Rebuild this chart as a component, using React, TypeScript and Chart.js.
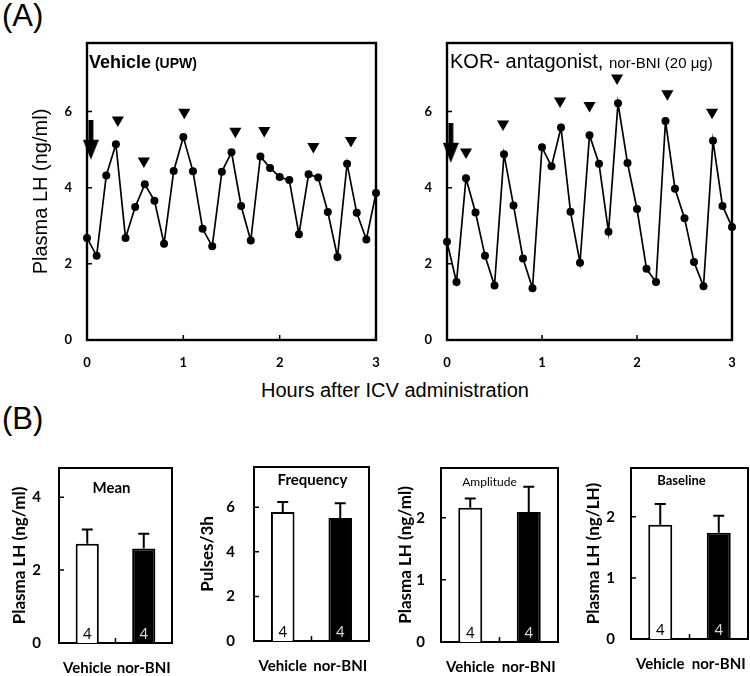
import React, { useEffect, useRef } from "react";
import { Chart, registerables } from "chart.js";

Chart.register(...registerables);

// ---------- Panel A data ----------
const sampleHours = [0, 0.1, 0.2, 0.3, 0.4, 0.5, 0.6, 0.7, 0.8, 0.9, 1, 1.1, 1.2, 1.3, 1.4, 1.5, 1.6, 1.7, 1.8, 1.9, 2, 2.1, 2.2, 2.3, 2.4, 2.5, 2.6, 2.7, 2.8, 2.9, 3];
const vehicleLH = [2.68, 2.21, 4.32, 5.14, 2.68, 3.49, 4.09, 3.66, 2.53, 4.44, 5.33, 4.43, 2.92, 2.46, 4.42, 4.93, 3.52, 2.61, 4.82, 4.52, 4.28, 4.2, 2.78, 4.35, 4.27, 3.36, 2.18, 4.63, 3.34, 2.64, 3.86];
const norBniLH = [2.58, 1.52, 4.25, 3.35, 2.21, 1.43, 4.88, 3.53, 2.14, 1.36, 5.06, 4.56, 5.58, 3.37, 2.03, 5.38, 4.63, 2.84, 6.22, 4.65, 3.44, 1.87, 1.52, 5.75, 3.97, 3.2, 2.05, 1.41, 5.23, 3.52, 2.97];
const vehiclePulseHours = [0.32, 0.59, 1.01, 1.54, 1.84, 2.35, 2.74];
const vehiclePulseMarks = [5.78, 4.7, 5.98, 5.48, 5.5, 5.08, 5.24];
const norBniPulseHours = [0.2, 0.59, 1.19, 1.5, 1.79, 2.32, 2.79];
const norBniPulseMarks = [4.94, 5.67, 6.28, 6.16, 6.88, 6.47, 5.98];
const injectionHour = [0.04];
const vehicleInjectionMark = [5.26];
const norBniInjectionMark = [5.18];

// ---------- Panel B data ----------
const groups = ["Vehicle", "nor-BNI"];
const nPerGroup = ["4", "4"];
const meanLH = [2.72, 2.59];
const meanSEM = [0.39, 0.41];
const pulseFrequency = [5.78, 5.51];
const pulseFrequencySEM = [0.45, 0.67];
const pulseAmplitude = [2.16, 2.09];
const pulseAmplitudeSEM = [0.15, 0.41];
const baselineLH = [1.87, 1.74];
const baselineSEM = [0.34, 0.28];

const ARIAL = '"Liberation Sans", Arial, sans-serif';
const LATO = 'Lato, "Noto Sans", sans-serif';

// frame + inward tick marks
const framePlugin = {
  id: "frame",
  beforeDatasetsDraw(chart: any, _a: any, opts: any) {
    const { ctx, chartArea: a } = chart;
    ctx.save();
    ctx.strokeStyle = "#000";
    ctx.lineWidth = opts.width || 2;
    ctx.strokeRect(a.left, a.top, a.right - a.left, a.bottom - a.top);
    const len = opts.tickLength || 5;
    ctx.lineWidth = 1.5;
    ctx.beginPath();
    const ys = chart.scales.y;
    ys.ticks.forEach((t: any) => {
      const p = ys.getPixelForValue(t.value);
      ctx.moveTo(a.left, p);
      ctx.lineTo(a.left + len, p);
    });
    const xs = chart.scales.x;
    if (xs.type === "category") {
      const n = xs.getLabels().length;
      for (let i = 0; i < n - 1; i++) {
        const p = (xs.getPixelForValue(i) + xs.getPixelForValue(i + 1)) / 2;
        ctx.moveTo(p, a.bottom);
        ctx.lineTo(p, a.bottom - len);
      }
    } else {
      xs.ticks.forEach((t: any) => {
        const p = xs.getPixelForValue(t.value);
        ctx.moveTo(p, a.bottom);
        ctx.lineTo(p, a.bottom - len);
      });
    }
    ctx.stroke();
    ctx.restore();
  },
};

// inner title made of text runs
const innerTextPlugin = {
  id: "innerText",
  afterDraw(chart: any, _a: any, opts: any) {
    const { ctx, chartArea: a } = chart;
    const runs = opts.runs || [];
    ctx.save();
    ctx.fillStyle = "#000";
    ctx.textBaseline = "alphabetic";
    ctx.textAlign = "left";
    let total = 0;
    runs.forEach((r: any) => {
      ctx.font = r.font;
      total += ctx.measureText(r.text).width;
    });
    let x = opts.align === "center" ? (a.left + a.right) / 2 + (opts.dx || 0) - total / 2 : a.left + (opts.dx || 0);
    const y = a.top + (opts.dy || 0);
    runs.forEach((r: any) => {
      ctx.font = r.font;
      ctx.fillText(r.text, x, y);
      x += ctx.measureText(r.text).width;
    });
    ctx.restore();
  },
};

// error bars and n labels
const barExtrasPlugin = {
  id: "barExtras",
  afterDatasetsDraw(chart: any, _a: any, opts: any) {
    const { ctx, chartArea: a } = chart;
    const ys = chart.scales.y;
    const ds = chart.data.datasets[0];
    const meta = chart.getDatasetMeta(0);
    ctx.save();
    meta.data.forEach((bar: any, i: number) => {
      const top = ys.getPixelForValue(ds.data[i] + opts.errors[i]);
      ctx.strokeStyle = "#000";
      ctx.lineWidth = 2;
      ctx.beginPath();
      ctx.moveTo(bar.x, bar.y);
      ctx.lineTo(bar.x, top);
      ctx.moveTo(bar.x - 5.5, top);
      ctx.lineTo(bar.x + 5.5, top);
      ctx.stroke();
      ctx.fillStyle = opts.labelColors[i];
      ctx.font = "15px " + LATO;
      ctx.textAlign = "center";
      ctx.textBaseline = "alphabetic";
      ctx.fillText(opts.labels[i], bar.x, a.bottom - 4);
    });
    ctx.restore();
  },
};

function makeArrow() {
  const c = document.createElement("canvas");
  c.width = 16;
  c.height = 40;
  const g = c.getContext("2d")!;
  g.fillStyle = "#000";
  g.fillRect(5.5, 0, 5, 22);
  g.beginPath();
  g.moveTo(0, 20);
  g.lineTo(16, 20);
  g.lineTo(8, 40);
  g.closePath();
  g.fill();
  return c;
}

const noPad = (s: any) => {
  s.paddingTop = 0;
  s.paddingBottom = 0;
  s.paddingLeft = 0;
  s.paddingRight = 0;
};

function lineConfig(p: any) {
  const arrow = makeArrow();
  return {
    type: "line",
    data: {
      datasets: [
        {
          data: sampleHours.map((h, i) => ({ x: h, y: p.values[i] })),
          borderColor: "#000",
          borderWidth: 1.7,
          pointRadius: 4,
          pointBackgroundColor: "#000",
          pointBorderWidth: 0,
          tension: 0,
          clip: false,
        },
        {
          data: p.pulseHours.map((h: number, i: number) => ({ x: h, y: p.pulseMarks[i] })),
          showLine: false,
          pointStyle: "triangle",
          pointRotation: 180,
          pointRadius: 7,
          pointBackgroundColor: "#000",
          pointBorderWidth: 0,
          clip: false,
        },
        {
          data: injectionHour.map((h, i) => ({ x: h, y: p.injMark[i] })),
          showLine: false,
          pointStyle: arrow,
          pointRadius: 5,
          clip: false,
        },
      ],
    },
    options: {
      animation: false,
      responsive: false,
      events: [],
      layout: { padding: { top: 13, right: p.padRight, left: 0, bottom: 0 } },
      plugins: {
        legend: { display: false },
        tooltip: { enabled: false },
        frame: { width: 2.4, tickLength: 5 },
        innerText: { runs: p.runs, dx: p.titleDx, dy: 25, align: "left" },
      },
      scales: {
        x: {
          type: "linear",
          min: 0,
          max: 3,
          grid: { display: false, drawTicks: false, tickLength: 0 },
          border: { display: false },
          ticks: { stepSize: 1, padding: 15, maxRotation: 0, color: "#000", font: { family: LATO, size: 13, weight: "bold" }, includeBounds: false },
          afterFit: (s: any) => { s.height = 40; noPad(s); },
        },
        y: {
          type: "linear",
          min: 0,
          max: 7.8,
          grid: { display: false, drawTicks: false, tickLength: 0 },
          border: { display: false },
          ticks: { stepSize: 2, padding: 15, color: "#000", font: { family: LATO, size: 13, weight: "bold" }, includeBounds: false },
          title: {
            display: !!p.yTitle,
            text: p.yTitle || "",
            color: "#000",
            font: { family: ARIAL, size: 20 },
            padding: { top: 29, bottom: 0 },
          },
          afterFit: (s: any) => { s.width = p.axisWidth; noPad(s); },
        },
      },
    },
    plugins: [framePlugin, innerTextPlugin],
  };
}

function barConfig(p: any) {
  return {
    type: "bar",
    data: {
      labels: groups,
      datasets: [
        {
          data: p.values,
          backgroundColor: ["#ffffff", "#000000"],
          borderColor: "#000",
          borderWidth: 2,
          barPercentage: 0.41,
          categoryPercentage: 1,
        },
      ],
    },
    options: {
      animation: false,
      responsive: false,
      events: [],
      layout: { padding: { top: p.padTop, right: p.padRight, left: 0, bottom: 0 } },
      plugins: {
        legend: { display: false },
        tooltip: { enabled: false },
        frame: { width: 2, tickLength: 5 },
        innerText: { runs: [{ text: p.title, font: p.titleFont }], align: "center", dx: p.titleDx, dy: p.titleDy },
        barExtras: { errors: p.errors, labels: nPerGroup, labelColors: ["#000", "#d8d8d8"] },
      },
      scales: {
        x: {
          type: "category",
          grid: { display: false, drawTicks: false, tickLength: 0 },
          border: { display: false },
          ticks: { padding: 16, maxRotation: 0, minRotation: 0, autoSkip: false, color: "#000", font: { family: LATO, size: 15, weight: "bold" } },
          afterFit: (s: any) => { s.height = p.xHeight; noPad(s); },
        },
        y: {
          type: "linear",
          min: 0,
          max: p.max,
          grid: { display: false, drawTicks: false, tickLength: 0 },
          border: { display: false },
          ticks: { stepSize: p.step, padding: p.tickPad, color: "#000", font: { family: LATO, size: 15, weight: "bold" }, includeBounds: false },
          title: {
            display: true,
            text: p.yTitle,
            color: "#000",
            font: { family: LATO, size: 17, weight: "bold" },
            padding: { top: p.titlePad, bottom: 0 },
          },
          afterFit: (s: any) => { s.width = p.axisWidth; noPad(s); },
        },
      },
    },
    plugins: [framePlugin, innerTextPlugin, barExtrasPlugin],
  };
}

function ChartCanvas({ left, top, width, height, build }: any) {
  const ref = useRef<HTMLCanvasElement>(null);
  useEffect(() => {
    const chart = new Chart(ref.current as HTMLCanvasElement, build());
    return () => chart.destroy();
  }, []);
  return (
    <canvas
      ref={ref}
      width={width}
      height={height}
      style={{ position: "absolute", left, top, width, height }}
    />
  );
}

export default function App() {
  return (
    <div style={{ position: "absolute", left: 0, top: 0, width: 750, height: 676, background: "#fff", fontFamily: ARIAL, color: "#000", overflow: "hidden" }}>
      <div style={{ position: "absolute", left: 2, top: 0, fontSize: 31, lineHeight: 1 }}>(A)</div>
      <div style={{ position: "absolute", left: 2, top: 403, fontSize: 31, lineHeight: 1 }}>(B)</div>
      <div style={{ position: "absolute", left: 395, top: 380, fontSize: 20, lineHeight: 1, whiteSpace: "nowrap", transform: "translateX(-50%)" }}>
        Hours after ICV administration
      </div>

      <ChartCanvas
        left={0} top={30} width={385} height={350}
        build={() => lineConfig({
          values: vehicleLH, pulseHours: vehiclePulseHours, pulseMarks: vehiclePulseMarks, injMark: vehicleInjectionMark,
          yTitle: "Plasma LH (ng/ml)", axisWidth: 87, padRight: 9, titleDx: 2,
          runs: [{ text: "Vehicle", font: "bold 18px " + ARIAL }, { text: " (UPW)", font: "bold 14px " + ARIAL }],
        })}
      />
      <ChartCanvas
        left={390} top={30} width={360} height={350}
        build={() => lineConfig({
          values: norBniLH, pulseHours: norBniPulseHours, pulseMarks: norBniPulseMarks, injMark: norBniInjectionMark,
          yTitle: "", axisWidth: 57, padRight: 18, titleDx: 3,
          runs: [{ text: "KOR- antagonist, ", font: "20px " + ARIAL }, { text: "nor-BNI (20 μg)", font: "15px " + ARIAL }],
        })}
      />

      <ChartCanvas
        left={0} top={440} width={185} height={236}
        build={() => barConfig({
          values: meanLH, errors: meanSEM, max: 4.8, step: 2, yTitle: "Plasma LH (ng/ml)",
          axisWidth: 59, padRight: 13, padTop: 28, xHeight: 33, tickPad: 18, titlePad: 9,
          title: "Mean", titleFont: "bold 15px " + LATO, titleDx: -4, titleDy: 25,
        })}
      />
      <ChartCanvas
        left={190} top={440} width={185} height={236}
        build={() => barConfig({
          values: pulseFrequency, errors: pulseFrequencySEM, max: 7.8, step: 2, yTitle: "Pulses/3h",
          axisWidth: 64, padRight: 6, padTop: 27, xHeight: 35, tickPad: 19, titlePad: 7,
          title: "Frequency", titleFont: "bold 15px " + LATO, titleDx: 1, titleDy: 18,
        })}
      />
      <ChartCanvas
        left={375} top={440} width={190} height={236}
        build={() => barConfig({
          values: pulseAmplitude, errors: pulseAmplitudeSEM, max: 2.8, step: 1, yTitle: "Plasma LH (ng/ml)",
          axisWidth: 66, padRight: 7, padTop: 28, xHeight: 34, tickPad: 16, titlePad: 20,
          title: "Amplitude", titleFont: "12px " + LATO, titleDx: -10, titleDy: 18,
        })}
      />
      <ChartCanvas
        left={565} top={440} width={185} height={236}
        build={() => barConfig({
          values: baselineLH, errors: baselineSEM, max: 2.8, step: 1, yTitle: "Plasma LH (ng/LH)",
          axisWidth: 66, padRight: 2, padTop: 28, xHeight: 37, tickPad: 16, titlePad: 18,
          title: "Baseline", titleFont: "bold 13px " + LATO, titleDx: -8, titleDy: 17,
        })}
      />
    </div>
  );
}
